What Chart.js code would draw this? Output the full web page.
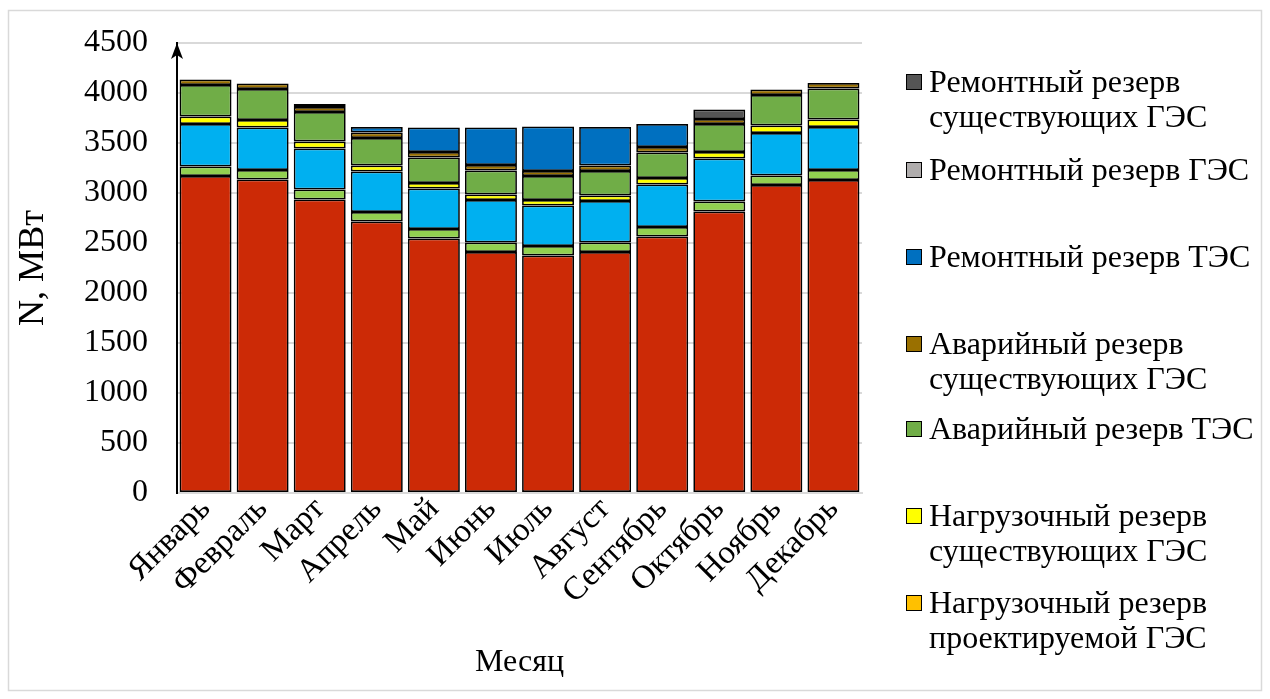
<!DOCTYPE html>
<html lang="ru">
<head>
<meta charset="utf-8">
<script src="https://cdn.jsdelivr.net/npm/chart.js@4.4.0/dist/chart.umd.min.js"></script>
<style>
  html, body { margin: 0; padding: 0; background: #fff; }
  #wrap { position: relative; width: 1270px; height: 699px; overflow: hidden; }
  #chart { position: absolute; left: 0; top: 0; }
  .legend { position: absolute; left: 906px; top: 0; font-family: "Liberation Serif", "Times New Roman", serif; font-size: 32px; color: #000; }
  .item { position: absolute; left: 0; white-space: nowrap; line-height: 35px; }
  .box { position: absolute; left: 0; width: 14px; height: 14px; border: 1px solid #000; }
  .txt { position: absolute; left: 23px; top: 0; }
</style>
</head>
<body>
<div id="wrap">
  <canvas id="chart" width="1270" height="699"></canvas>
  <div class="legend" id="legend"></div>
</div>
<script>
// Months
const months = ['Январь', 'Февраль', 'Март', 'Апрель', 'Май', 'Июнь', 'Июль',
                'Август', 'Сентябрь', 'Октябрь', 'Ноябрь', 'Декабрь'];

// Stacked components, MW (bottom to top)
const workTPP      = [3170, 3135, 2935, 2715, 2545, 2410, 2375, 2410, 2565, 2815, 3080, 3130];
const workExistHPP = [  95,   95,  100,   95,   95,   95,   95,   95,   95,  100,   95,  100];
const workNewHPP   = [ 425,  425,  410,  405,  405,  425,  405,  415,  425,  430,  425,  430];
const loadNewHPP   = [   0,    0,    0,    0,    0,    0,    0,    0,    0,    0,    0,    0];
const loadExistHPP = [  75,   75,   70,   60,   55,   55,   55,   55,   65,   65,   75,   75];
const emergTPP     = [ 315,  310,  295,  275,  255,  240,  240,  245,  255,  280,  305,  310];
const emergExistHPP= [  55,   55,   50,   55,   55,   55,   50,   55,   55,   50,   55,   55];
const repairTPP    = [   0,    0,    0,   55,  245,  375,  445,  385,  230,    0,    0,    0];
const repairHPP    = [   0,    0,   30,    0,    0,    0,    0,    0,    0,    0,    0,    0];
const repairExistHPP=[   0,    0,    0,    0,    0,    0,    0,    0,    0,   95,    0,    0];

// Y axis ticks
const yTicks = [0, 500, 1000, 1500, 2000, 2500, 3000, 3500, 4000, 4500];

const series = [
  { label: 'Рабочая мощность ТЭС', data: workTPP, color: '#cc2a06', legend: null },
  { label: 'Рабочая мощность существующих ГЭС', data: workExistHPP, color: '#92d050', legend: null },
  { label: 'Рабочая мощность проектируемой ГЭС', data: workNewHPP, color: '#00b0f0', legend: null },
  { label: 'Нагрузочный резерв проектируемой ГЭС', data: loadNewHPP, color: '#ffc000', legend: ['Нагрузочный резерв', 'проектируемой ГЭС'], y: 585 },
  { label: 'Нагрузочный резерв существующих ГЭС', data: loadExistHPP, color: '#ffff00', legend: ['Нагрузочный резерв', 'существующих ГЭС'], y: 498 },
  { label: 'Аварийный резерв ТЭС', data: emergTPP, color: '#70ad47', legend: ['Аварийный резерв ТЭС'], y: 411 },
  { label: 'Аварийный резерв существующих ГЭС', data: emergExistHPP, color: '#9a7000', legend: ['Аварийный резерв', 'существующих ГЭС'], y: 326 },
  { label: 'Ремонтный резерв ТЭС', data: repairTPP, color: '#0070c0', legend: ['Ремонтный резерв ТЭС'], y: 239 },
  { label: 'Ремонтный резерв ГЭС', data: repairHPP, color: '#b0adad', legend: ['Ремонтный резерв ГЭС'], y: 152 },
  { label: 'Ремонтный резерв существующих ГЭС', data: repairExistHPP, color: '#555555', legend: ['Ремонтный резерв', 'существующих ГЭС'], y: 64 }
];

const FONT = '"Liberation Serif", "Times New Roman", serif';

// Outer frame and the arrow on the value axis
const framePlugin = {
  id: 'frame',
  beforeDraw(chart) {
    const c = chart.ctx;
    c.save();
    c.fillStyle = '#fff';
    c.fillRect(0, 0, chart.width, chart.height);
    c.strokeStyle = '#d9d9d9';
    c.lineWidth = 1.5;
    c.strokeRect(8.5, 10.5, 1253, 680);
    c.restore();
  },
  afterDraw(chart) {
    const c = chart.ctx;
    const y = chart.scales.y;
    const x0 = y.right;
    const top = y.getPixelForValue(4500);
    c.save();
    c.fillStyle = '#000';
    c.beginPath();
    c.moveTo(x0, top);
    c.lineTo(x0 - 6, top + 16);
    c.lineTo(x0, top + 12);
    c.lineTo(x0 + 6, top + 16);
    c.closePath();
    c.fill();
    c.restore();
  }
};

new Chart(document.getElementById('chart'), {
  type: 'bar',
  data: {
    labels: months,
    datasets: series.map(s => ({
      label: s.label,
      data: s.data,
      backgroundColor: s.color,
      borderColor: '#000',
      borderWidth: 1.7,
      borderSkipped: false,
      barPercentage: 0.91,
      categoryPercentage: 1
    }))
  },
  options: {
    responsive: false,
    animation: false,
    layout: { padding: { left: 0, top: 43, right: 408, bottom: 0 } },
    plugins: {
      legend: { display: false },
      tooltip: { enabled: false }
    },
    scales: {
      x: {
        stacked: true,
        grid: { display: false, drawTicks: false },
        border: { color: '#d9d9d9', width: 2 },
        ticks: {
          color: '#000',
          font: { family: FONT, size: 33 },
          maxRotation: 45,
          minRotation: 45,
          autoSkip: false,
          padding: -3
        },
        title: {
          display: true,
          text: 'Месяц',
          color: '#000',
          font: { family: FONT, size: 32 },
          padding: { top: 0, bottom: 17 }
        },
        afterFit(scale) { scale.height = 206; }
      },
      y: {
        stacked: true,
        min: 0,
        max: 4500,
        afterBuildTicks(scale) { scale.ticks = yTicks.map(v => ({ value: v })); },
        grid: { color: '#d9d9d9', lineWidth: 2, drawTicks: false },
        border: { color: '#000', width: 2 },
        ticks: {
          color: '#000',
          font: { family: FONT, size: 32 },
          padding: 29,
          callback: v => String(v)
        },
        title: {
          display: true,
          text: 'N, МВт',
          color: '#000',
          font: { family: FONT, size: 36 },
          padding: { top: 12, bottom: 0 }
        },
        afterFit(scale) {
          scale.width = 177;
          scale.paddingTop = 0;
          scale.paddingBottom = 0;
        }
      }
    }
  },
  plugins: [framePlugin]
});

// Legend for the reserve components
const legend = document.getElementById('legend');
series.filter(s => s.legend).forEach(s => {
  const item = document.createElement('div');
  item.className = 'item';
  item.style.top = s.y + 'px';
  const box = document.createElement('div');
  box.className = 'box';
  box.style.background = s.color;
  box.style.top = '10px';
  const txt = document.createElement('div');
  txt.className = 'txt';
  txt.innerHTML = s.legend.join('<br>');
  item.appendChild(box);
  item.appendChild(txt);
  legend.appendChild(item);
});
</script>
</body>
</html>
